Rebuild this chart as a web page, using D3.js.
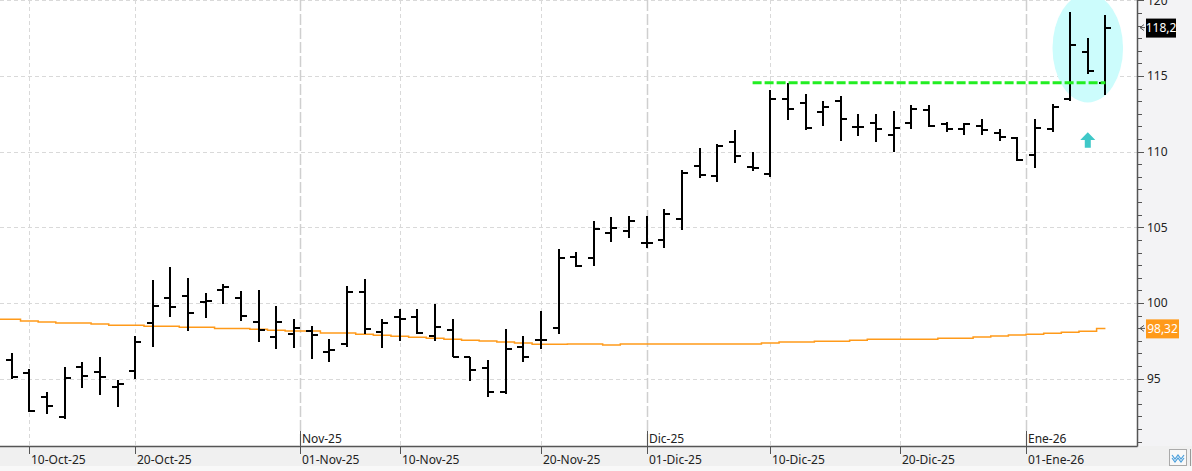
<!DOCTYPE html>
<html><head><meta charset="utf-8">
<script src="https://cdn.jsdelivr.net/npm/d3@7"></script>
<style>
html,body{margin:0;padding:0;background:#fff;overflow:hidden}
svg{display:block;font-family:"Noto Sans",sans-serif}
</style></head><body>
<svg id="c" width="1192" height="471"></svg>
<script>
// ---------- data ----------
const dates = ["2025-10-09","2025-10-10","2025-10-13","2025-10-14","2025-10-15","2025-10-16","2025-10-17","2025-10-20","2025-10-21","2025-10-22","2025-10-23","2025-10-24","2025-10-27","2025-10-28","2025-10-29","2025-10-30","2025-10-31",
"2025-11-03","2025-11-04","2025-11-05","2025-11-06","2025-11-07","2025-11-10","2025-11-11","2025-11-12","2025-11-13","2025-11-14","2025-11-17","2025-11-18","2025-11-19","2025-11-20","2025-11-21","2025-11-24","2025-11-25","2025-11-26","2025-11-28",
"2025-12-01","2025-12-02","2025-12-03","2025-12-04","2025-12-05","2025-12-08","2025-12-09","2025-12-10","2025-12-11","2025-12-12","2025-12-15","2025-12-16","2025-12-17","2025-12-18","2025-12-19","2025-12-22","2025-12-23","2025-12-24","2025-12-26","2025-12-29","2025-12-30","2025-12-31",
"2026-01-02","2026-01-05","2026-01-06","2026-01-07","2026-01-08"];
const openP  = [96.23,95.35,93.78,92.44,95.77,95.42,94.44,95.48,98.67,100.31,100.46,100.04,100.84,100.31,98.74,97.73,97.93,
98.15,96.76,97.27,100.70,98.06,99.05,99.05,97.80,98.21,96.45,95.68,94.09,97.07,97.53,98.32,103.02,102.95,104.60,104.74,
103.94,104.14,105.53,109.03,108.37,110.62,108.97,108.50,113.46,113.20,112.60,113.37,111.65,111.87,111.08,111.87,112.75,111.83,111.50,111.70,111.23,
110.92,109.78,111.50,113.46,116.57,114.55];
const highP  = [96.67,95.63,94.09,95.75,96.12,96.41,94.91,97.82,101.52,102.36,101.63,100.64,101.25,100.77,100.86,99.80,98.92,
98.48,97.60,101.12,101.56,98.92,99.58,99.58,99.93,98.92,96.45,96.23,98.26,97.82,99.47,103.57,103.35,105.42,105.68,105.77,
105.75,106.21,108.79,110.24,110.51,111.43,109.98,114.07,114.56,113.81,113.35,113.68,112.49,112.49,112.69,113.06,113.06,111.98,111.87,112.16,111.50,
110.95,112.16,113.13,119.21,117.51,119.03];
const lowP   = [94.95,92.77,92.64,92.31,94.36,93.94,93.10,94.95,97.11,99.09,98.17,99.03,99.91,98.83,97.44,96.94,97.04,
96.30,96.12,97.11,97.95,97.04,97.51,97.95,97.51,96.41,94.86,93.76,93.98,96.12,96.98,97.95,102.36,102.46,104.05,104.31,
103.65,103.65,104.84,108.26,108.01,109.27,108.74,108.34,112.09,111.43,111.72,110.72,111.05,110.66,110.00,111.48,111.65,111.28,111.12,111.08,110.68,
109.38,108.94,111.28,113.37,115.13,113.76];
const closeP = [95.13,92.88,93.19,95.02,95.15,95.09,94.62,97.40,99.78,99.71,99.34,100.11,101.03,99.12,98.21,98.74,98.32,
97.86,96.89,100.72,98.26,98.65,98.92,97.99,98.39,96.45,95.57,94.09,96.94,96.41,97.53,102.95,102.42,104.87,104.93,105.40,
103.94,105.86,108.57,108.48,110.35,109.69,108.90,113.46,112.80,111.54,112.93,112.16,111.63,111.50,111.56,112.80,111.70,111.50,111.83,111.41,110.97,
109.47,111.56,112.95,117.05,115.31,118.20];
const movAvg = [98.92,98.81,98.74,98.68,98.68,98.61,98.52,98.52,98.46,98.46,98.39,98.39,98.32,98.32,98.26,98.19,98.15,
98.15,98.01,98.01,97.93,97.86,97.80,97.73,97.66,97.60,97.53,97.49,97.42,97.35,97.27,97.27,97.29,97.29,97.22,97.29,
97.29,97.29,97.29,97.29,97.29,97.29,97.29,97.35,97.42,97.42,97.47,97.47,97.53,97.60,97.60,97.60,97.60,97.66,97.66,97.75,97.82,
97.88,97.93,98.00,98.06,98.13,98.32];

const tickDates  = ["2025-10-10","2025-10-20","2025-11-01","2025-11-10","2025-11-20","2025-12-01","2025-12-10","2025-12-20","2026-01-01"];
const tickLabels = ["10-Oct-25","20-Oct-25","01-Nov-25","10-Nov-25","20-Nov-25","01-Dic-25","10-Dic-25","20-Dic-25","01-Ene-26"];
const monthDates  = ["2025-11-01","2025-12-01","2026-01-01"];
const monthLabels = ["Nov-25","Dic-25","Ene-26"];
const yTickValues = [95,100,105,110,115,120];

const resistanceLevel = 114.55;
const resistanceFrom = "2025-12-09", resistanceTo = "2026-01-08";
const highlightCenter = "2026-01-07";     // ellipse around last bars
const highlightRange = [113.25, 120.45];  // vertical extent of ellipse (price)
const arrowDate = "2026-01-07";
const arrowRange = [110.26, 111.28];

// ---------- layout ----------
const W = 1192, H = 471, plotR = 1137, plotB = 446;
const svg = d3.select("#c");
const parse = d3.utcParse("%Y-%m-%d");
const t = dates.map(parse);
function fracIndex(ds){
  const d = parse(ds);
  const i = d3.bisectLeft(t, d);
  if (i < t.length && +t[i] === +d) return i;
  const a = t[i-1], b = t[i];
  return (i-1) + (d - a)/(b - a);
}
const x = d3.scaleLinear().domain([-0.663, 63.79]).range([0, plotR]);
const y = d3.scaleLinear().domain([90.546, 120.023]).range([plotB, 0]);
const step = x(1) - x(0);

// backgrounds
svg.append("rect").attr("x",0).attr("y",0).attr("width",W).attr("height",H).attr("fill","#ffffff");
svg.append("rect").attr("x",plotR).attr("y",0).attr("width",W-plotR).attr("height",plotB).attr("fill","#f3f3f5");
svg.append("rect").attr("x",0).attr("y",plotB).attr("width",W).attr("height",20).attr("fill","#f0f0f0");
svg.append("rect").attr("x",0).attr("y",plotB+20).attr("width",W).attr("height",H-plotB-20).attr("fill","#f8f8f8");

svg.append("defs").append("clipPath").attr("id","clip")
  .append("rect").attr("x",0).attr("y",0).attr("width",plotR).attr("height",plotB);
const plot = svg.append("g").attr("clip-path","url(#clip)");

// horizontal grid
plot.selectAll("line.hg").data(yTickValues).join("line")
  .attr("x1",0).attr("x2",plotR).attr("y1",d=>Math.round(y(d))+0.5).attr("y2",d=>Math.round(y(d))+0.5)
  .attr("stroke","#d9d9d9").attr("stroke-dasharray","4,3");
// vertical grid (non-month)
const plainTicks = tickDates.filter(d=>!monthDates.includes(d));
plot.selectAll("line.vg").data(plainTicks).join("line")
  .attr("x1",d=>Math.round(x(fracIndex(d)))+0.5).attr("x2",d=>Math.round(x(fracIndex(d)))+0.5)
  .attr("y1",0).attr("y2",plotB)
  .attr("stroke","#d9d9d9").attr("stroke-dasharray","4,3");
// month separators
plot.selectAll("line.mg").data(monthDates).join("line")
  .attr("x1",d=>Math.round(x(fracIndex(d)))+0.5).attr("x2",d=>Math.round(x(fracIndex(d)))+0.5)
  .attr("y1",0).attr("y2",plotB)
  .attr("stroke","#cfcfcf").attr("stroke-width",1.5).attr("stroke-dasharray","11,3");

// highlight ellipse
const ci = fracIndex(highlightCenter);
plot.append("ellipse")
  .attr("cx",x(ci)).attr("cy",(y(highlightRange[0])+y(highlightRange[1]))/2)
  .attr("rx",2*step).attr("ry",(y(highlightRange[0])-y(highlightRange[1]))/2)
  .attr("fill","#ccfcfc");

// moving average (step line)
const maPts = movAvg.map((v,i)=>[x(i), y(v)]);
maPts.unshift([x.range()[0], y(movAvg[0])]);
plot.append("path").datum(maPts)
  .attr("d", d3.line().curve(d3.curveStep))
  .attr("fill","none").attr("stroke","#ff9a1a").attr("stroke-width",1.5);

// OHLC bars
const bars = plot.append("g").attr("stroke","#000").attr("stroke-width",2).attr("shape-rendering","crispEdges");
dates.forEach((d,i)=>{
  const cx = Math.round(x(i));
  bars.append("line").attr("x1",cx).attr("x2",cx).attr("y1",y(highP[i])).attr("y2",y(lowP[i]));
  bars.append("line").attr("x1",cx-6).attr("x2",cx).attr("y1",Math.round(y(openP[i]))).attr("y2",Math.round(y(openP[i])));
  bars.append("line").attr("x1",cx).attr("x2",cx+6).attr("y1",Math.round(y(closeP[i]))).attr("y2",Math.round(y(closeP[i])));
});

// resistance line
plot.append("line")
  .attr("x1",x(fracIndex(resistanceFrom))).attr("x2",x(fracIndex(resistanceTo)))
  .attr("y1",y(resistanceLevel)).attr("y2",y(resistanceLevel))
  .attr("stroke","#22ee22").attr("stroke-width",3).attr("stroke-dasharray","9,3");

// up arrow
{
  const ax = x(fracIndex(arrowDate)), top = y(arrowRange[1]), bot = y(arrowRange[0]);
  const mid = top + (bot-top)*0.5;
  plot.append("path")
    .attr("d",`M${ax},${top} L${ax+7.5},${mid} L${ax+3},${mid} L${ax+3},${bot} L${ax-3},${bot} L${ax-3},${mid} L${ax-7.5},${mid} Z`)
    .attr("fill","#3fc8c8");
}

// axes lines
svg.append("line").attr("x1",0).attr("x2",plotR+0.5).attr("y1",plotB+0.5).attr("y2",plotB+0.5).attr("stroke","#555").attr("stroke-width",1.5);
svg.append("line").attr("x1",plotR+0.5).attr("x2",plotR+0.5).attr("y1",0).attr("y2",plotB+0.5).attr("stroke","#555").attr("stroke-width",1.5);

// right axis ticks
const minor = d3.range(120, y.domain()[0], -5/6).filter(v=>!yTickValues.some(m=>Math.abs(m-v)<0.01));
svg.selectAll("line.mt").data(minor).join("line")
  .attr("x1",plotR).attr("x2",plotR+5).attr("y1",d=>Math.round(y(d))+0.5).attr("y2",d=>Math.round(y(d))+0.5)
  .attr("stroke","#555");
svg.selectAll("line.Mt").data(yTickValues).join("line")
  .attr("x1",plotR).attr("x2",plotR+7).attr("y1",d=>Math.round(y(d))+0.5).attr("y2",d=>Math.round(y(d))+0.5)
  .attr("stroke","#555");
svg.selectAll("text.yl").data(yTickValues).join("text")
  .attr("x",plotR+10).attr("y",d=>y(d)).attr("dy","0.35em")
  .attr("font-size",12).attr("fill","#222")
  .text(d=>d);

// price labels
function priceLabel(v, bg, w){
  const yy = y(v);
  svg.append("rect").attr("x",plotR+9).attr("y",yy-9).attr("width",w).attr("height",19).attr("fill",bg);
  svg.append("text").attr("x",plotR+9+w/2).attr("y",yy).attr("dy","0.36em").attr("text-anchor","middle")
    .attr("font-size",12).attr("fill","#fff").text(String(v).replace(".",","));
  svg.append("path").attr("d",`M${plotR+7},${yy-3} L${plotR+3},${yy} L${plotR+7},${yy+3} M${plotR+3},${yy} L${plotR+8},${yy}`)
    .attr("fill","none").attr("stroke","#555").attr("stroke-width",1);
}
priceLabel(closeP[closeP.length-1], "#000", 30);
priceLabel(movAvg[movAvg.length-1], "#ff9a1a", 33);

// bottom axis ticks & labels
svg.selectAll("line.xt").data(tickDates).join("line")
  .attr("x1",d=>Math.round(x(fracIndex(d)))+0.5).attr("x2",d=>Math.round(x(fracIndex(d)))+0.5)
  .attr("y1",plotB).attr("y2",plotB+8).attr("stroke","#555");
svg.selectAll("text.xl").data(tickDates).join("text")
  .attr("x",d=>Math.round(x(fracIndex(d)))+2).attr("y",plotB+18)
  .attr("font-size",12).attr("fill","#222")
  .text((d,i)=>tickLabels[i]);
// month markers above axis
svg.selectAll("line.mm").data(monthDates).join("line")
  .attr("x1",d=>Math.round(x(fracIndex(d)))+0.5).attr("x2",d=>Math.round(x(fracIndex(d)))+0.5)
  .attr("y1",plotB-15).attr("y2",plotB).attr("stroke","#555");
svg.selectAll("text.ml").data(monthDates).join("text")
  .attr("x",d=>Math.round(x(fracIndex(d)))+2).attr("y",plotB-3)
  .attr("font-size",12).attr("fill","#222")
  .text((d,i)=>monthLabels[i]);

// small corner icon
svg.append("rect").attr("x",1169.5).attr("y",449.5).attr("width",17).attr("height",16).attr("fill","#f8f8f8").attr("stroke","#aaa");
svg.append("polyline").attr("points","1172,455 1175,459 1178,455 1181,459 1184,455").attr("fill","none").attr("stroke","#4a9fdc").attr("stroke-width",1.2);
svg.append("polyline").attr("points","1172,458 1175,462 1178,458 1181,462 1184,458").attr("fill","none").attr("stroke","#4a9fdc").attr("stroke-width",1.2);
svg.append("line").attr("x1",1190.5).attr("x2",1190.5).attr("y1",449).attr("y2",466).attr("stroke","#999");
</script>
</body></html>
